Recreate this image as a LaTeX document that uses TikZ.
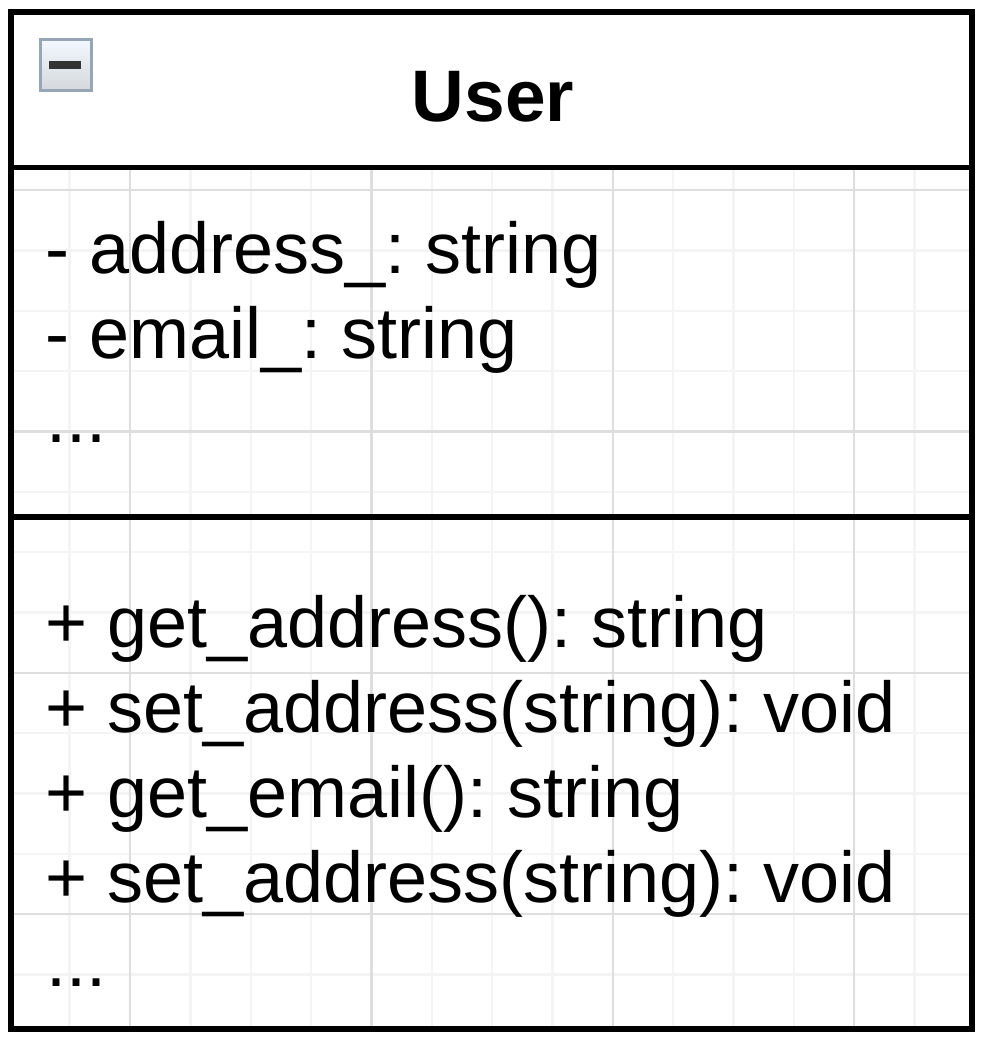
\documentclass[tikz,border=0pt]{standalone}
\usepackage{fontspec}
\setmainfont{Liberation Sans}
\usetikzlibrary{positioning}

\definecolor{gridminor}{HTML}{F4F4F4}
\definecolor{gridmajor}{HTML}{DEDEDE}
\definecolor{iconedge}{HTML}{97A6B6}
\definecolor{icontop}{HTML}{F2F8FE}
\definecolor{iconbottom}{HTML}{D4D8DC}

\tikzset{
    member/.style={anchor=base west, inner sep=0pt, font=\fontsize{72}{85}\selectfont\frenchspacing},
    heading/.style={anchor=base, inner sep=0pt, font=\fontsize{73}{85}\selectfont\bfseries},
    frame/.style={line width=5.5pt, draw=black}
}

\begin{document}
\begin{tikzpicture}[x=1pt, y=-1pt]
    \useasboundingbox (0,0) rectangle (987,1043);

    % Grid behind the compartments
    \begin{scope}
        \clip (11,168) rectangle (972,1029);
        \begin{scope}[shift={(130,190)}]
            \draw[gridminor, line width=2.4pt, step=60.35pt] (-180,-60) grid (905,905);
            \draw[gridmajor, line width=2.4pt, step=241.4pt] (-241.4,-241.4) grid (965.6,965.6);
        \end{scope}
    \end{scope}

    % Class frame and dividers
    \draw[frame] (11,12) rectangle (972,1029);
    \draw[frame] (11,167.5) -- (972,167.5);
    \draw[frame] (11,517) -- (972,517);

    % Collapse icon
    \shade[top color=icontop, bottom color=iconbottom, draw=iconedge, line width=3pt] (40,40) rectangle (91,91);
    \fill[black!80] (49,61) rectangle (81,69);

    % Class name
    \node[heading] (title) at (493,122) {User};

    % Attributes
    \node[member] (addr) at (45,273) {- address\_: string};
    \node[member] (email) at (45,358) {- email\_: string};
    \node[member] (attrmore) at (46,442) {...};

    % Operations
    \node[member] (getaddr) at (45,647) {+ get\_address(): string};
    \node[member] (setaddr) at (45,732) {+ set\_address(string): void};
    \node[member] (getemail) at (45,817) {+ get\_email(): string};
    \node[member] (setaddrb) at (45,902) {+ set\_address(string): void};
    \node[member] (opmore) at (46,986) {...};
\end{tikzpicture}
\end{document}
